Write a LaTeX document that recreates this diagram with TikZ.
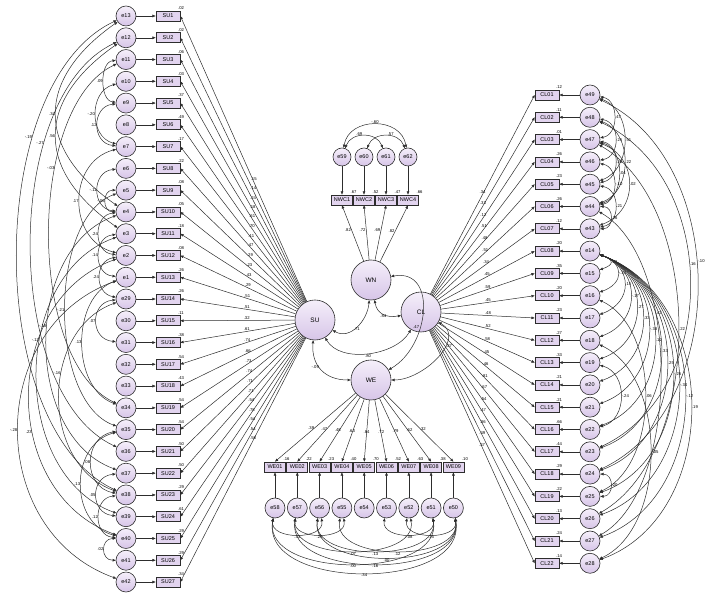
\documentclass[tikz,border=0pt]{standalone}
\usepackage{fontspec}
\setmainfont{Liberation Sans}
\usetikzlibrary{arrows.meta, positioning, calc}
\definecolor{lavtop}{RGB}{245,239,250}
\definecolor{lavbot}{RGB}{215,197,232}
\definecolor{boxfill}{RGB}{226,212,239}
\definecolor{linegray}{RGB}{45,45,45}

\begin{document}
\begin{tikzpicture}[x=1pt, y=1pt, >={Triangle[length=3.2pt, width=2.6pt]},
  err/.style={circle, draw=linegray, line width=0.6pt, top color=lavtop, bottom color=lavbot,
              minimum size=20pt, inner sep=0pt, font=\fontsize{5.5}{5.5}\selectfont},
  lat/.style={err, minimum size=40pt, font=\fontsize{6.5}{6.5}\selectfont},
  obs/.style={rectangle, draw=linegray, line width=0.7pt, fill=boxfill, minimum width=24pt,
              minimum height=10pt, inner sep=0pt, font=\fontsize{5.5}{5.5}\selectfont},
  lab/.style={inner sep=0.6pt, font=\fontsize{4.2}{4.2}\selectfont},
  reg/.style={->, line width=0.5pt, draw=linegray},
  cov/.style={<->, line width=0.5pt, draw=linegray}]
  \useasboundingbox (0,0) rectangle (715,596);

  % latent factors
  \node[lat] (SU) at (315,276) {SU};
  \node[lat] (WN) at (371,316) {WN};
  \node[lat] (CL) at (421,284) {CL};
  \node[lat] (WE) at (371,216) {WE};

  % SU indicators
  \foreach \e/\r [count=\i] in {13/.02, 12/.02, 11/.06, 10/.03, 9/.37, 8/.49, 7/.17, 6/.22, 5/.08,
      4/.05, 3/.18, 2/.08, 1/.26, 29/.26, 30/.11, 31/.38, 32/.54, 33/.43, 34/.54, 35/.54,
      36/.50, 37/.50, 38/.29, 39/.61, 40/.29, 41/.29, 42/.34}{
    \pgfmathsetmacro\yy{580-21.77*(\i-1)}
    \node[err] (e\e) at (126,\yy) {e\e};
    \node[obs] (su\i) at (168,\yy) {SU\i};
    \node[lab, anchor=south west] at ([xshift=-3pt]su\i.north east) {\r};
    \draw[reg] (e\e) -- (su\i);
  }
  \foreach \v [count=\i] in {.15, .14, .24, .18, .61, .70, .41, .47, .29, .23, .43, .29, .51, .51,
      .32, .61, .74, .66, .73, .74, .71, .71, .54, .78, .54, .54, .58}{
    \draw[reg] (SU) -- node[lab, pos=0.42, above] {\v} (su\i.east);
  }

  % CL indicators
  \foreach \e/\r [count=\i] in {49/.12, 48/.11, 47/.01, 46/.26, 45/.23, 44/.26, 43/.12, 14/.20,
      15/.35, 16/.20, 17/.23, 18/.27, 19/.33, 20/.21, 21/.21, 22/.66, 23/.44, 24/.29, 25/.22,
      26/.13, 27/.24, 28/.14}{
    \pgfmathsetmacro\yy{501-22.3*(\i-1)}
    \node[err] (e\e) at (590,\yy) {e\e};
    \node[obs] (cl\i) at (547,\yy) {CL\ifnum\i<10 0\fi\i};
    \node[lab, anchor=south west] at ([xshift=-4pt]cl\i.north east) {\r};
    \draw[reg] (e\e) -- (cl\i);
  }
  \foreach \v [count=\i] in {.34, .33, .12, .51, .48, .51, .34, .45, .59, .45, .48, .52, .58, .45,
      .46, .81, .67, .54, .47, .36, .49, .37}{
    \draw[reg] (CL) -- node[lab, pos=0.5, above] {\v} (cl\i.west);
  }

  % WN indicators
  \foreach \e/\r/\v/\x [count=\i] in {59/.67/.82/342, 60/.52/.72/364, 61/.47/.69/386, 62/.66/.82/408}{
    \node[err, minimum size=18pt] (e\e) at (\x,439) {e\e};
    \node[obs, minimum width=21pt] (nwc\i) at (\x,396) {NWC\i};
    \node[lab, anchor=south west] at ([xshift=-3pt]nwc\i.north east) {\r};
    \draw[reg] (e\e) -- (nwc\i);
    \draw[reg] (WN) -- node[lab, pos=0.55, left] {\v} (nwc\i.south);
  }

  % WE indicators
  \foreach \e/\r/\v [count=\i] in {58/.16/.39, 57/.22/.47, 56/.23/.48, 55/.40/.63, 54/.70/.84,
      53/.52/.72, 52/.63/.79, 51/.38/.62, 50/.10/.32}{
    \pgfmathsetmacro\xx{275+22.3*(\i-1)}
    \node[err] (e\e) at (\xx,88) {e\e};
    \node[obs, minimum width=21pt] (we\i) at (\xx,129) {WE0\i};
    \node[lab, anchor=south west] at ([xshift=-3pt]we\i.north east) {\r};
    \draw[reg] (e\e) -- (we\i);
    \draw[reg] (WE) -- node[lab, pos=0.55, above] {\v} (we\i.north);
  }

  % factor covariances
  \draw[cov] (WN) to[out=-80, in=190, looseness=1.2] node[lab, below] {.84} (CL);
  \draw[cov] (WN) to[out=-95, in=-30, looseness=1.1] node[lab, below] {.71} (SU);
  \draw[cov] (SU) to[out=-60, in=-120, looseness=0.9] node[lab, below] {.80} (CL);
  \draw[cov] (WN) to[out=10, in=30, looseness=1.3] node[lab, pos=0.62, left] {.47} (WE);
  \draw[cov] (CL) to[out=-30, in=0, looseness=1.1] node[lab, pos=0.35, right] {.27} (WE);
  \draw[cov] (SU) to[out=-95, in=180, looseness=1.2] node[lab, pos=0.45, left] {-.09} (WE);

  % error covariances, SU side
  \foreach \a/\b/\t/\l/\v/\p in {11/9/5/1.0/.09/0.5, 10/7/15/1.2/-.20/0.5, 9/7/5/1.5/.12/0.5,
      6/4/5/1.5/-.11/0.5, 5/4/0/1.6/-.06/0.5, 7/2/15/1.25/.17/0.5, 4/2/5/1.4/.24/0.5,
      3/1/5/1.4/.14/0.5, 2/29/10/1.4/.24/0.5, 29/31/5/1.6/.07/0.5, 35/38/10/1.4/.08/0.5,
      35/40/15/1.2/.13/0.5, 37/39/5/1.6/.05/0.5, 38/40/5/1.4/.12/0.5, 40/41/0/1.8/.02/0.5,
      13/38/25/0.8/-.19/0.3, 12/36/25/0.8/-.27/0.3, 11/34/25/0.75/-.03/0.35,
      13/4/35/1.4/.34/0.5, 12/3/35/1.4/.56/0.5, 1/42/20/1.2/-.28/0.5, 2/40/20/1.15/.23/0.6,
      3/39/20/1.05/-.13/0.4, 4/37/20/1.0/-.18/0.45, 29/38/20/1.1/-.16/0.4,
      5/35/20/0.8/-.21/0.5, 1/34/20/1.0/.13/0.5}{
    \pgfmathsetmacro\oa{180+\t}
    \pgfmathsetmacro\ia{180-\t}
    \draw[cov] (e\a) to[out=\oa, in=\ia, looseness=\l] node[lab, pos=\p, left] {\v} (e\b);
  }

  % error covariances, CL side
  \foreach \a/\b/\t/\l/\v/\p in {49/47/10/1.2/.47/0.5, 48/46/10/1.3/.25/0.5, 49/45/20/1.1/.51/0.5,
      48/44/20/1.1/.22/0.5, 47/45/10/1.3/.26/0.5, 47/44/15/1.1/.04/0.5, 46/44/10/1.2/-.10/0.5,
      45/43/10/1.3/.21/0.5, 44/43/0/1.6/.26/0.5, 47/43/20/1.3/.02/0.5,
      49/24/25/1.0/-.10/0.45, 48/23/25/1.05/.16/0.45, 47/26/30/0.85/.22/0.5,
      44/27/30/0.75/.42/0.35, 16/25/25/0.9/.06/0.5, 18/28/25/0.9/-.05/0.5,
      19/22/15/1.2/-.24/0.5, 24/25/0/1.6/.20/0.5}{
    \pgfmathsetmacro\oa{-\t}
    \draw[cov] (e\a) to[out=\oa, in=\t, looseness=\l] node[lab, pos=\p, right] {\v} (e\b);
  }
  \foreach \e/\v [count=\k] in {15/.22, 16/-.23, 17/.15, 18/-.17, 19/.27, 20/.33, 21/-.38,
      22/.12, 23/.33, 24/.25, 25/-.26, 26/-.34, 27/-.12, 28/.19}{
    \pgfmathsetmacro\ll{(10+6*\k)/(0.276*22.3*\k)}
    \draw[cov] (e14) to[out=-20, in=20, looseness=\ll] node[lab, right] {\v} (e\e);
  }

  % error covariances, WN side
  \draw[cov] (e59) to[out=80, in=100, looseness=1.3] node[lab, above] {-.60} (e62);
  \draw[cov] (e59) to[out=70, in=110, looseness=1.2] node[lab, pos=0.4, above] {.69} (e61);
  \draw[cov] (e60) to[out=70, in=110, looseness=1.2] node[lab, pos=0.6, above] {.57} (e62);

  % error covariances, WE side
  \foreach \a/\b/\l/\v in {58/56/1.2/.33, 57/55/1.2/.29, 53/51/1.2/-.08, 52/50/1.2/.15,
      57/52/1.0/.07, 56/50/1.0/.00, 56/51/1.0/.13, 55/50/1.0/.12, 58/51/1.0/.00,
      57/50/1.0/.16, 58/50/1.05/.34}{
    \draw[cov] (e\a) to[out=-100, in=-80, looseness=\l] node[lab, below] {\v} (e\b);
  }
\end{tikzpicture}
\end{document}
